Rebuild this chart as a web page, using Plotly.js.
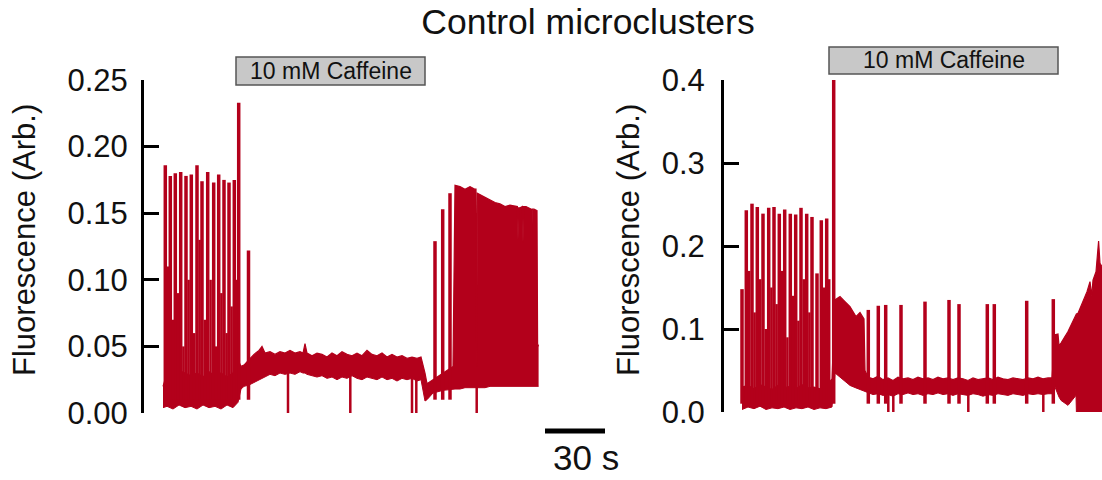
<!DOCTYPE html>
<html>
<head>
<meta charset="utf-8">
<script src="https://cdn.plot.ly/plotly-3.0.1.min.js"></script>
<style>html,body{margin:0;padding:0;background:#fff;}#chart{width:1102px;height:480px;}</style>
</head>
<body>
<div id="chart"></div>
<script>
// ---------- DATA (time in s, fluorescence in Arb.) ----------
// Left panel: noise band (lower / upper envelope)
const L_bandT  = [0,2,5,8,11,14,17,20,23,26,29,32,35,37.5,39,40.5,43,45.5,48,49.5,51,53.5,56,58.5,61,63.5,66,68.5,70,71,72,74.5,77,79.5,82,84.5,87,89.5,92,94.5,97,99.5,102,104.5,107,109.5,112,114.5,117,119.5,122,124.5,127,129,131,132,135,140,145,146,148.5,151,153.5,156,156.5,156.85,157.2,161,163.5,166,168.5,171,173.5,177.2,177.5,177.8,178.5,179.7,180,180.3,181.5,184.05,184.35,184.65,185.5,187,187.3,187.8];
const L_bandLo = [.004,.005,.003,.006,.004,.005,.003,.006,.004,.005,.003,.006,.004,.008,.018,.020,.021,.023,.025,.026,.027,.029,.028,.030,.029,.030,.029,.031,.030,.030,.029,.028,.027,.028,.026,.027,.025,.027,.026,.028,.026,.025,.027,.026,.025,.027,.025,.026,.024,.026,.025,.026,.024,.025,.009,.010,.015,.017,.018,.018,.018,.019,.019,.019,.019,.019,.019,.019,.020,.020,.020,.020,.020,.020,.020,.020,.020,.020,.020,.020,.020,.020,.020,.020,.020,.020,.020,.020];
const L_bandHi = [.020,.030,.028,.032,.030,.028,.030,.027,.031,.028,.030,.027,.030,.040,.035,.036,.040,.044,.047,.050,.045,.046,.044,.046,.045,.047,.045,.046,.045,.052,.045,.043,.045,.044,.042,.045,.043,.046,.044,.043,.045,.043,.047,.044,.043,.045,.042,.044,.042,.043,.041,.042,.041,.042,.030,.022,.025,.030,.035,.171,.170,.168,.170,.168,.168,.035,.165,.162,.160,.158,.157,.155,.156,.155,.130,.154,.154,.155,.128,.155,.155,.153,.130,.153,.153,.152,.052,.050];
// Left panel: spikes (time, peak)
const L_spikeT = [1.15,3.65,6.15,8.85,11.5,14.15,17.0,19.5,22.35,25.35,27.85,30.5,33.0,35.65,37.85,42.75,136,139.85,143.5];
const L_spikeV = [.186,.178,.180,.181,.178,.179,.186,.174,.181,.173,.179,.175,.173,.175,.233,.122,.129,.153,.165];
// Left panel: secondary (smaller) transients
const L_subT = [2.4,4.9,7.5,10.2,12.8,15.6,18.3,20.9,23.8,26.6,29.2,31.8,34.3,36.8];
const L_subV = [.11,.07,.09,.05,.10,.06,.13,.07,.10,.05,.09,.06,.08,.10];
// Left panel: dropouts to zero (time, level before dropout)
const L_dipT   = [62.5,93.65,124.5,126.65,156.85];
const L_dipTop = [.03,.028,.026,.026,.02];
// Left caffeine application [start, end]
const L_caff = [36.5,131];

// Right panel
const R_bandT  = [0,3,6,9,12,15,18,21,24,27,30,33,36,39,42,45,46.5,49,51.5,54,57,59,61,61.5,63,65.5,68,70.5,73,75.5,78,80.5,83,85.5,88,90.5,93,95.5,98,100.5,103,105.5,108,110.5,113,115.5,118,120.5,123,125.5,128,130.5,133,135.5,138,140.5,143,145.5,148,150.5,153,155,156.5,158,158.5,159.5,163,167,167.2,168,172.5,174,174.85,175.5,177,178.3,179,180];
const R_bandLo = [.003,.006,.004,.007,.003,.005,.004,.006,.003,.005,.004,.006,.003,.005,.004,.006,.047,.042,.036,.032,.029,.027,.025,.025,.023,.021,.022,.020,.021,.019,.022,.021,.023,.021,.022,.020,.022,.021,.023,.021,.022,.020,.022,.021,.020,.022,.021,.019,.021,.020,.022,.021,.020,.022,.021,.020,.022,.021,.022,.021,.022,.022,.030,.020,.018,.014,.008,.020,0,0,0,0,0,0,0,0,0,0];
const R_bandHi = [.030,.032,.028,.033,.030,.027,.032,.029,.031,.028,.033,.029,.030,.028,.031,.040,.135,.139,.133,.127,.115,.120,.112,.050,.042,.040,.043,.039,.041,.038,.042,.040,.041,.039,.042,.040,.041,.039,.042,.040,.041,.039,.041,.040,.038,.041,.039,.040,.041,.039,.042,.040,.039,.041,.040,.039,.041,.040,.042,.040,.041,.041,.093,.094,.080,.083,.097,.117,.118,.119,.145,.157,.140,.159,.169,.206,.179,.175];
const R_spikeT = [0,2.15,5.0,7.65,10.5,13.35,16.0,18.65,21.35,24.15,26.85,29.5,32.35,35.0,37.5,39.65,42.35,45.85,63.15,68.15,71.85,79.5,91.5,103.5,108.5,122.65,126.15,142.35,155.65];
const R_spikeV = [.148,.243,.251,.247,.239,.246,.247,.239,.244,.239,.238,.246,.239,.235,.167,.231,.233,.40,.123,.128,.129,.129,.133,.135,.13,.13,.13,.134,.136];
const R_subT = [3.6,6.3,9.1,11.9,14.7,17.3,20,22.7,25.5,28.2,30.9,33.7,40.9,43.6];
const R_subV = [.17,.12,.16,.10,.15,.13,.17,.09,.14,.11,.16,.12,.15,.16];
const R_dipT   = [73.15,75.65,113.15,150.65];
const R_dipTop = [.022,.022,.022,.022];
const R_caff = [43.5,158];

const L_ticks = [0,0.05,0.10,0.15,0.20,0.25];
const R_ticks = [0,0.1,0.2,0.3,0.4];
const SCALE_BAR_S = 30;

// ---------- STYLE ----------
const RED = '#b3001b';
const FONT = 'Liberation Sans, Arial, Helvetica, sans-serif';
const BASE = 0.01;
const W = 1102, H = 480;
const px = v => v / W, py = v => 1 - v / H;

function segs(ts, tops, bottoms) {
  const x = [], y = [];
  ts.forEach((t, i) => { x.push(t, t, null); y.push(bottoms === null ? BASE : bottoms[i], tops[i], null); });
  return {x, y};
}

function panelTraces(xa, ya, bandT, lo, hi, spT, spV, subT, subV, dipT, dipTop) {
  const tr = [];
  tr.push({x: bandT, y: lo, xaxis: xa, yaxis: ya, mode: 'lines', line: {color: RED, width: 1}, hoverinfo: 'skip'});
  tr.push({x: bandT, y: hi, xaxis: xa, yaxis: ya, mode: 'lines', fill: 'tonexty', fillcolor: RED, line: {color: RED, width: 1.2}, hoverinfo: 'skip'});
  const s = segs(spT, spV, null);
  tr.push({x: s.x, y: s.y, xaxis: xa, yaxis: ya, mode: 'lines', line: {color: RED, width: 3.5}, connectgaps: false, hoverinfo: 'skip'});
  const b = segs(subT, subV, null);
  tr.push({x: b.x, y: b.y, xaxis: xa, yaxis: ya, mode: 'lines', line: {color: RED, width: 2.5}, connectgaps: false, hoverinfo: 'skip'});
  const d = segs(dipT, dipTop, dipT.map(() => 0));
  tr.push({x: d.x, y: d.y, xaxis: xa, yaxis: ya, mode: 'lines', line: {color: RED, width: 2.5}, connectgaps: false, hoverinfo: 'skip'});
  return tr;
}

const data = [
  ...panelTraces('x', 'y', L_bandT, L_bandLo, L_bandHi, L_spikeT, L_spikeV, L_subT, L_subV, L_dipT, L_dipTop),
  ...panelTraces('x2', 'y2', R_bandT, R_bandLo, R_bandHi, R_spikeT, R_spikeV, R_subT, R_subV, R_dipT, R_dipTop)
];

const yCommon = {
  showline: true, linecolor: '#000', linewidth: 3,
  ticks: 'inside', ticklen: 15, tickwidth: 3, tickcolor: '#000',
  showgrid: false, zeroline: false,
  tickfont: {family: FONT, size: 31, color: '#111'},
  fixedrange: true
};

const layout = {
  width: W, height: H,
  margin: {l: 0, r: 0, t: 0, b: 0},
  paper_bgcolor: '#fff', plot_bgcolor: 'rgba(0,0,0,0)',
  showlegend: false,
  title: {text: 'Control microclusters', font: {family: FONT, size: 35.5, color: '#111'},
          x: px(588), xref: 'paper', xanchor: 'center', y: 1 - 22 / H, yref: 'container', yanchor: 'middle'},
  xaxis:  {domain: [px(144), px(640)], range: [-9.5, 238.5], visible: false, fixedrange: true},
  xaxis2: {domain: [px(724), 1], range: [-9, 180], visible: false, fixedrange: true},
  yaxis:  Object.assign({}, yCommon, {domain: [1 - 413 / H, 1 - 80 / H], range: [0, 0.25], tickvals: L_ticks, tickformat: '.2f', anchor: 'x', ticklabelstandoff: 7}),
  yaxis2: Object.assign({}, yCommon, {domain: [1 - 412 / H, 1 - 80 / H], range: [0, 0.4], tickvals: R_ticks, tickformat: '.1f', anchor: 'x2', ticklabelstandoff: 10}),
  shapes: [
    {type: 'rect', xref: 'x', yref: 'paper', x0: L_caff[0], x1: L_caff[1], y0: py(85), y1: py(57),
     fillcolor: '#c8c8c8', line: {color: '#555', width: 1.5}},
    {type: 'rect', xref: 'x2', yref: 'paper', x0: R_caff[0], x1: R_caff[1], y0: py(74), y1: py(47),
     fillcolor: '#c8c8c8', line: {color: '#555', width: 1.5}},
    {type: 'line', xref: 'x', yref: 'paper', x0: 191, x1: 191 + SCALE_BAR_S, y0: py(431), y1: py(431),
     line: {color: '#000', width: 5}}
  ],
  annotations: [
    {text: '10 mM Caffeine', xref: 'x', yref: 'paper', x: (L_caff[0] + L_caff[1]) / 2, y: py(71),
     showarrow: false, font: {family: FONT, size: 23, color: '#111'}, xanchor: 'center', yanchor: 'middle'},
    {text: '10 mM Caffeine', xref: 'x2', yref: 'paper', x: (R_caff[0] + R_caff[1]) / 2, y: py(60.5),
     showarrow: false, font: {family: FONT, size: 23, color: '#111'}, xanchor: 'center', yanchor: 'middle'},
    {text: SCALE_BAR_S + ' s', xref: 'paper', yref: 'paper', x: px(586), y: py(457),
     showarrow: false, font: {family: FONT, size: 35, color: '#111'}, xanchor: 'center', yanchor: 'middle'},
    {text: 'Fluorescence (Arb.)', xref: 'paper', yref: 'paper', x: px(24), y: py(240), textangle: -90,
     showarrow: false, font: {family: FONT, size: 31, color: '#111'}, xanchor: 'center', yanchor: 'middle'},
    {text: 'Fluorescence (Arb.)', xref: 'paper', yref: 'paper', x: px(628), y: py(240), textangle: -90,
     showarrow: false, font: {family: FONT, size: 31, color: '#111'}, xanchor: 'center', yanchor: 'middle'}
  ]
};

Plotly.newPlot('chart', data, layout, {staticPlot: true, displayModeBar: false});
</script>
</body>
</html>
